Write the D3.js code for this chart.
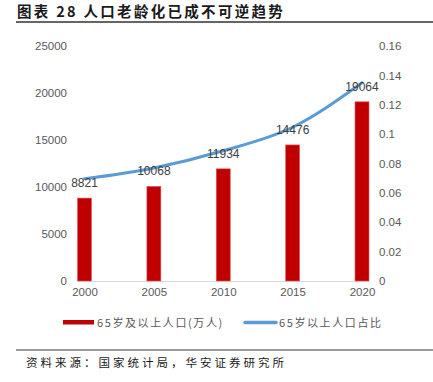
<!DOCTYPE html>
<html><head><meta charset="utf-8">
<script src="https://cdn.jsdelivr.net/npm/d3@7"></script>
<style>
body{margin:0;background:#fff;}
svg{display:block;}
</style></head>
<body><svg id="c" width="433" height="382"></svg>
<script>
const categories = ["2000","2005","2010","2015","2020"];
const population = [8821, 10068, 11934, 14476, 19064];
const ratio = [0.0696, 0.077, 0.0887, 0.1047, 0.135];
const leftTicks = [0, 5000, 10000, 15000, 20000, 25000];
const rightTicks = [0, 0.02, 0.04, 0.06, 0.08, 0.1, 0.12, 0.14, 0.16];
const title = "图表 28 人口老龄化已成不可逆趋势";
const seriesNames = ["65岁及以上人口(万人)", "65岁以上人口占比"];
const source = "资料来源：国家统计局，华安证券研究所";

const svg = d3.select("#c");
const font = "'Liberation Sans', Arial, 'Noto Sans CJK SC', sans-serif";
const cjk = "'Noto Sans CJK SC', sans-serif";

const x = d3.scalePoint().domain(categories).range([84.5, 362]);
const yL = d3.scaleLinear().domain([0, 25000]).range([281, 46]);
const yR = d3.scaleLinear().domain([0, 0.16]).range([281, 46]);
const bw = 14;

// title
svg.append("text").attr("x", 17).attr("y", 17).attr("font-family", cjk)
  .attr("font-weight", "bold").attr("font-size", 14.5).attr("letter-spacing", 2.3)
  .attr("fill", "#1a1a1a").text(title);
svg.append("line").attr("x1", 16).attr("x2", 433).attr("y1", 22).attr("y2", 22)
  .attr("stroke", "#333").attr("stroke-width", 1.5);

// left axis
const gl = svg.append("g").attr("transform", "translate(67,0)")
  .call(d3.axisLeft(yL).tickValues(leftTicks).tickSize(0).tickPadding(0).tickFormat(d3.format("d")));
gl.select(".domain").remove();
gl.selectAll("text").attr("font-family", font).attr("font-size", 11.5).attr("fill", "#595959");

// right axis
const gr = svg.append("g").attr("transform", "translate(379,0)")
  .call(d3.axisRight(yR).tickValues(rightTicks).tickSize(0).tickPadding(0)
    .tickFormat(d => d === 0 ? "0" : d3.format("")(+d.toFixed(2))));
gr.select(".domain").remove();
gr.selectAll("text").attr("font-family", font).attr("font-size", 11.5).attr("fill", "#595959");

// baseline
svg.append("line").attr("x1", x(categories[0]) - bw/2).attr("x2", x(categories[categories.length-1]) + bw/2)
  .attr("y1", yL(0) + 0.5).attr("y2", yL(0) + 0.5).attr("stroke", "#d9d9d9").attr("stroke-width", 1);

// x axis
const gx = svg.append("g").attr("transform", "translate(0,288)")
  .call(d3.axisBottom(x).tickSize(0).tickPadding(0));
gx.select(".domain").remove();
gx.selectAll("text").attr("font-family", font).attr("font-size", 11.5).attr("fill", "#595959");

// bars
svg.selectAll("rect.bar").data(categories).join("rect").attr("class", "bar")
  .attr("x", d => x(d) - bw/2).attr("width", bw)
  .attr("y", (d, i) => yL(population[i])).attr("height", (d, i) => yL(0) - yL(population[i]))
  .attr("fill", "#c00000").attr("stroke", "#e06060").attr("stroke-width", 0.6);

// line
const line = d3.line().x((d, i) => x(categories[i])).y(d => yR(d)).curve(d3.curveMonotoneX);
svg.append("path").datum(ratio).attr("d", line).attr("fill", "none")
  .attr("stroke", "#5b9bd5").attr("stroke-width", 3).attr("stroke-linecap", "round");

// labels
svg.selectAll("text.lab").data(categories).join("text").attr("class", "lab")
  .attr("x", d => x(d)).attr("y", (d, i) => yL(population[i]) - 11)
  .attr("text-anchor", "middle").attr("font-family", font).attr("font-size", 12)
  .attr("fill", "#404040").text((d, i) => population[i]);

// legend
svg.append("rect").attr("x", 63).attr("y", 320).attr("width", 31).attr("height", 4.5).attr("fill", "#c00000");
svg.append("text").attr("x", 97).attr("y", 326.5).attr("font-family", cjk).attr("font-size", 11)
  .attr("letter-spacing", 1.6).attr("fill", "#595959").text(seriesNames[0]);
svg.append("line").attr("x1", 245).attr("x2", 276).attr("y1", 322.5).attr("y2", 322.5)
  .attr("stroke", "#5b9bd5").attr("stroke-width", 3.5).attr("stroke-linecap", "round");
svg.append("text").attr("x", 279).attr("y", 326.5).attr("font-family", cjk).attr("font-size", 11)
  .attr("letter-spacing", 1.6).attr("fill", "#595959").text(seriesNames[1]);

// source
svg.append("line").attr("x1", 16).attr("x2", 433).attr("y1", 350).attr("y2", 350)
  .attr("stroke", "#333").attr("stroke-width", 1);
svg.append("text").attr("x", 26).attr("y", 367).attr("font-family", cjk).attr("font-size", 11.5)
  .attr("letter-spacing", 3).attr("fill", "#1a1a1a").text(source);
</script></body></html>
